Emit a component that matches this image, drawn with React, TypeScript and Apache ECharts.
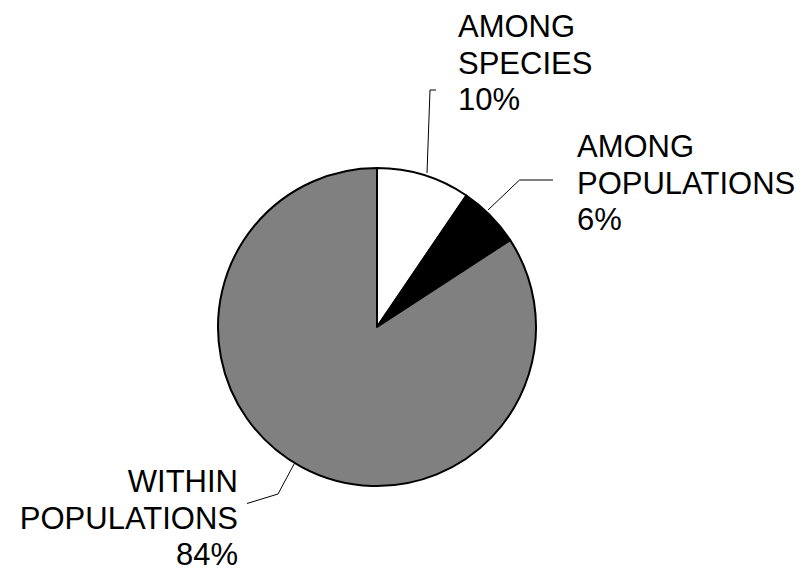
import React, { useEffect, useRef } from "react";
import * as echarts from "echarts";

const categories = ["AMONG\nSPECIES", "AMONG\nPOPULATIONS", "WITHIN\nPOPULATIONS"];
const values = [9.5, 6.3, 84.2];
const percentLabels = ["10%", "6%", "84%"];
const sliceColors = ["#ffffff", "#000000", "#808080"];

// label anchor placement (x, top y, alignment) and leader line points
const labelAnchors = [
  { x: 458, y: 8.5, align: "left" },
  { x: 577, y: 128.5, align: "left" },
  { x: 238, y: 463.5, align: "right" },
];
const leaderLines = [
  [[427, 173], [430, 90], [436, 90]],
  [[488, 210], [519.5, 180], [553, 180]],
  [[300, 453], [278, 494], [247, 503.5]],
];

export default function App() {
  const ref = useRef<HTMLDivElement>(null);
  useEffect(() => {
    if (!ref.current) return;
    const chart = echarts.init(ref.current, null, { renderer: "svg" });
    chart.setOption({
      animation: false,
      backgroundColor: "#ffffff",
      series: [
        {
          type: "pie",
          center: [377, 327],
          radius: 159,
          startAngle: 90,
          clockwise: true,
          silent: true,
          avoidLabelOverlap: false,
          emphasis: { disabled: true },
          itemStyle: { borderColor: "#000000", borderWidth: 2 },
          data: categories.map((name, i) => ({
            name,
            value: values[i],
            itemStyle: { color: sliceColors[i] },
          })),
          label: {
            show: true,
            position: "outside",
            fontFamily: "'Liberation Sans', Arial, sans-serif",
            fontSize: 31,
            lineHeight: 36.5,
            color: "#000000",
            formatter: (p: any) => categories[p.dataIndex] + "\n" + percentLabels[p.dataIndex],
          },
          labelLine: {
            show: true,
            lineStyle: { color: "#000000", width: 1 },
          },
          labelLayout: (p: any) => {
            const a = labelAnchors[p.dataIndex];
            return {
              x: a.x,
              y: a.y,
              align: a.align,
              verticalAlign: "top",
              labelLinePoints: leaderLines[p.dataIndex],
            };
          },
        },
      ],
    });
    return () => chart.dispose();
  }, []);
  return (
    <div
      ref={ref}
      style={{ position: "fixed", left: 0, top: 0, width: 810, height: 569 }}
    />
  );
}
